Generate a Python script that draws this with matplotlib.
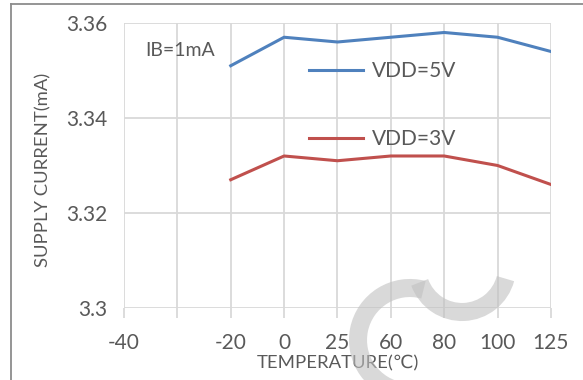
import matplotlib
matplotlib.use("Agg")
import matplotlib.pyplot as plt
from matplotlib.patches import Arc
from matplotlib.lines import Line2D
from matplotlib.transforms import IdentityTransform

# Temperature categories (one unlabeled slot between -40 and -20)
temp_labels = ['-40', '', '-20', '0', '25', '60', '80', '100', '125']
data_temps = ['-20', '0', '25', '60', '80', '100', '125']
vdd5_current = [3.351, 3.357, 3.356, 3.357, 3.358, 3.357, 3.354]
vdd3_current = [3.327, 3.332, 3.331, 3.332, 3.332, 3.330, 3.326]
y_ticks = [3.30, 3.32, 3.34, 3.36]
y_tick_labels = ['3.3', '3.32', '3.34', '3.36']

TEXT = '#595959'
GRID = '#d9d9d9'
BLUE = '#4f81bd'
RED = '#c0504d'

plt.rcParams['font.family'] = ['Lato', 'DejaVu Sans']

fig = plt.figure(figsize=(5.83, 3.80), dpi=100)
ax = fig.add_axes([0.2127, 0.1895, 0.7323, 0.75])

x_all = list(range(len(temp_labels)))
x_data = [temp_labels.index(t) for t in data_temps]

ax.plot(x_data, vdd5_current, color=BLUE, lw=2.2, label='VDD=5V', zorder=3)
ax.plot(x_data, vdd3_current, color=RED, lw=2.2, label='VDD=3V', zorder=3)

ax.set_xlim(0, len(temp_labels) - 1)
ax.set_ylim(3.30, 3.36)
ax.set_xticks(x_all)
ax.set_xticklabels(temp_labels)
ax.set_yticks(y_ticks)
ax.set_yticklabels(y_tick_labels)

ax.grid(True, color=GRID, lw=1.3, zorder=0)
ax.set_axisbelow(True)
for s in ax.spines.values():
    s.set_visible(False)

ax.tick_params(axis='x', length=7, width=1.3, color=GRID, pad=11,
               labelsize=15, labelcolor=TEXT)
ax.tick_params(axis='y', length=0, pad=12, labelsize=15, labelcolor=TEXT)

ax.set_xlabel('TEMPERATURE(℃)', fontsize=13.3, color=TEXT, va='center')
ax.xaxis.set_label_coords(0.5, -0.195)
ax.set_ylabel('SUPPLY CURRENT(mA)', fontsize=13.3, color=TEXT, va='center')
ax.yaxis.set_label_coords(-0.19, 0.484)

ax.text(0.049, 0.905, 'IB=1mA', transform=ax.transAxes, fontsize=14,
        color=TEXT, ha='left', va='center')

leg = ax.legend(loc='upper left', bbox_to_anchor=(0.433, 0.865), frameon=False,
                fontsize=15, handlelength=2.6, handletextpad=0.45,
                labelspacing=2.3, borderpad=0, borderaxespad=0)
for t in leg.get_texts():
    t.set_color(TEXT)

# frame lines along the top and left edges
fig.add_artist(Line2D([10.5, 583], [376, 376], transform=IdentityTransform(),
                      color='#8c8c8c', lw=1.3))
fig.add_artist(Line2D([10.5, 10.5], [0, 376], transform=IdentityTransform(),
                      color='#8c8c8c', lw=1.3))

# light logo mark near the bottom
fig.add_artist(Arc((410, 40), 104, 104, theta1=75, theta2=262,
                   transform=IdentityTransform(), color='#c0c0c0',
                   alpha=0.6, lw=13, zorder=5))
fig.add_artist(Arc((462, 113), 90, 90, theta1=200, theta2=345,
                   transform=IdentityTransform(), color='#c0c0c0',
                   alpha=0.6, lw=13, zorder=5))

fig.savefig('out.png', dpi=100)
